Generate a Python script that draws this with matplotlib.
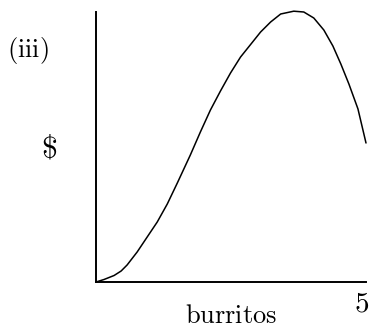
import numpy as np
import matplotlib.pyplot as plt

plt.rcParams['mathtext.fontset'] = 'cm'

# curve (burritos vs $)
burritos = [0.0, 0.149, 0.335, 0.465, 0.576, 0.762, 0.948, 1.134, 1.320, 1.506,
            1.747, 1.933, 2.119, 2.305, 2.491, 2.677, 2.900, 3.048, 3.234, 3.420,
            3.662, 3.848, 4.033, 4.219, 4.387, 4.535, 4.684, 4.851, 5.0]
dollars = [0.0, 0.093, 0.241, 0.407, 0.63, 1.111, 1.667, 2.222, 2.889, 3.667,
           4.704, 5.556, 6.370, 7.074, 7.741, 8.333, 8.889, 9.259, 9.630, 9.926,
           10.03, 10.0, 9.778, 9.333, 8.74, 8.07, 7.33, 6.41, 5.148]

W, H = 371, 330
fig = plt.figure(figsize=(W / 100, H / 100), dpi=100)
ax = fig.add_axes([96 / W, 1 - 282 / H, 270 / W, 270 / H])

ax.plot(burritos, dollars, color='black', lw=1.1, solid_capstyle='round',
        solid_joinstyle='round', clip_on=False)
ax.set_xlim(0, 5)
ax.set_ylim(0, 10)

for s in ['top', 'right']:
    ax.spines[s].set_visible(False)
for s in ['left', 'bottom']:
    ax.spines[s].set_linewidth(1.4)
ax.set_xticks([])
ax.set_yticks([])

def px(x, y):
    return x / W, 1 - y / H

fig.text(*px(28, 51), r'$\mathrm{(iii)}$', fontsize=19, ha='center', va='center')
fig.text(*px(49, 149), r'$\$$', fontsize=23, ha='center', va='center')
fig.text(*px(231, 323), r'$\mathrm{burritos}$', fontsize=19, ha='center', va='baseline')
fig.text(*px(362, 312), r'$5$', fontsize=21, ha='center', va='baseline')

fig.savefig('out.png', dpi=100)
